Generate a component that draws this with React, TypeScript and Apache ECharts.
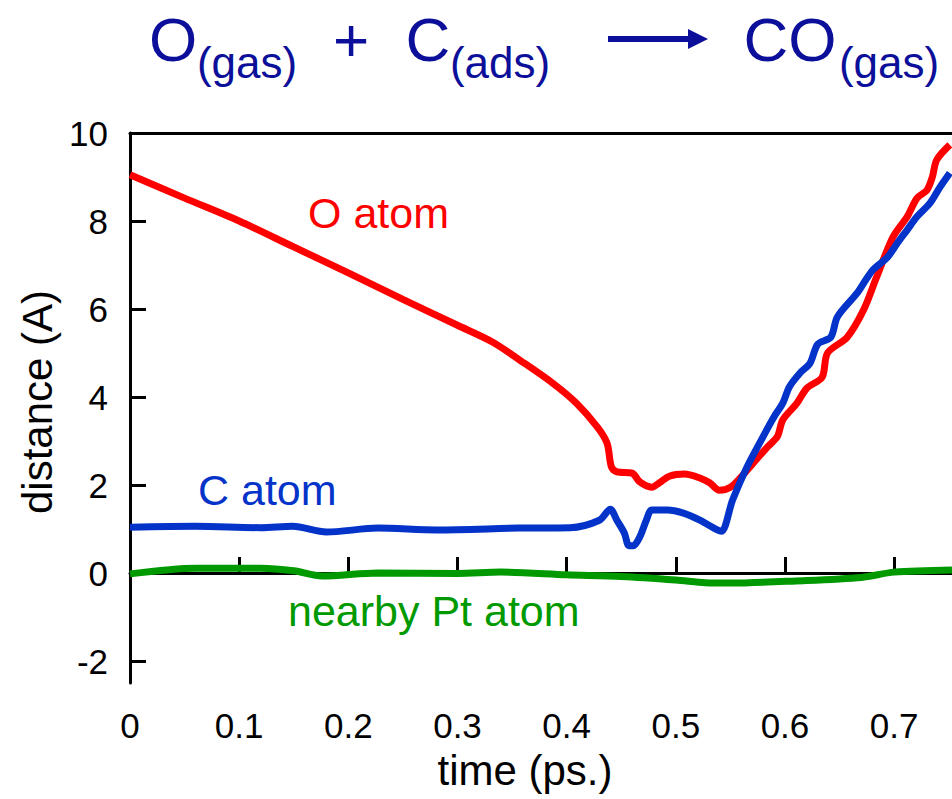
import React, { useEffect, useRef } from 'react';
import * as echarts from 'echarts';

const FONT = '"Liberation Sans", Arial, Helvetica, sans-serif';
const NAVY = '#0c0f99';
const RED = '#ff0000';
const BLUE = '#0333c9';
const GREEN = '#009a00';

// x tick labels / y tick labels
const xTicks = [0, 0.1, 0.2, 0.3, 0.4, 0.5, 0.6, 0.7];
const yTicks = [-2, 0, 2, 4, 6, 8, 10];

// O atom (red)
const oTime = [0, 0.05, 0.1, 0.15, 0.2, 0.25, 0.3, 0.332, 0.357, 0.387, 0.409, 0.428, 0.437, 0.441, 0.446, 0.46, 0.467, 0.478, 0.485, 0.494, 0.508, 0.522, 0.531, 0.54, 0.55, 0.559, 0.571, 0.583, 0.593, 0.598, 0.611, 0.62, 0.634, 0.639, 0.657, 0.672, 0.684, 0.699, 0.712, 0.721, 0.73, 0.735, 0.739, 0.751];
const oDist = [9.05, 8.52, 8.0, 7.41, 6.82, 6.22, 5.63, 5.25, 4.84, 4.32, 3.86, 3.32, 2.95, 2.41, 2.3, 2.27, 2.07, 1.95, 2.05, 2.2, 2.25, 2.16, 2.05, 1.88, 1.95, 2.16, 2.5, 2.84, 3.1, 3.48, 3.86, 4.2, 4.45, 5.0, 5.36, 5.98, 6.73, 7.64, 8.1, 8.52, 8.7, 9.0, 9.39, 9.73];

// C atom (blue)
const cTime = [0, 0.06, 0.12, 0.149, 0.18, 0.227, 0.281, 0.356, 0.403, 0.43, 0.44, 0.446, 0.453, 0.457, 0.461, 0.467, 0.473, 0.478, 0.492, 0.507, 0.522, 0.538, 0.542, 0.552, 0.565, 0.58, 0.59, 0.598, 0.604, 0.614, 0.623, 0.63, 0.642, 0.648, 0.666, 0.675, 0.681, 0.694, 0.703, 0.712, 0.721, 0.733, 0.742, 0.751];
const cDist = [1.04, 1.06, 1.03, 1.06, 0.93, 1.02, 0.98, 1.02, 1.03, 1.2, 1.45, 1.2, 0.9, 0.62, 0.62, 0.82, 1.2, 1.43, 1.43, 1.36, 1.2, 0.98, 0.95, 1.66, 2.4, 3.1, 3.55, 3.86, 4.23, 4.55, 4.77, 5.2, 5.36, 5.82, 6.36, 6.7, 6.9, 7.18, 7.5, 7.8, 8.1, 8.41, 8.77, 9.09];

// nearby Pt atom (green)
const gTime = [0, 0.06, 0.12, 0.15, 0.176, 0.227, 0.3, 0.34, 0.4, 0.45, 0.5, 0.527, 0.55, 0.61, 0.67, 0.7, 0.753];
const gDist = [-0.02, 0.11, 0.11, 0.05, -0.07, 0.0, -0.01, 0.02, -0.04, -0.08, -0.16, -0.22, -0.23, -0.18, -0.1, 0.02, 0.07];

const zip = (a: number[], b: number[]) => a.map((v, i) => [v, b[i]]);

const axisLineStyle = { color: '#000', width: 3 };

export default function App() {
  const ref = useRef<HTMLDivElement>(null);
  useEffect(() => {
    document.body.style.margin = '0';
    const chart = echarts.init(ref.current!, null, { renderer: 'svg' });
    const bigText = (text: string, x: number) => ({
      type: 'text', x, y: 39,
      style: { text, fontSize: 62, fontFamily: FONT, fill: NAVY, align: 'center', verticalAlign: 'middle' },
    });
    const subText = (text: string, x: number) => ({
      type: 'text', x, y: 62,
      style: { text, fontSize: 44, fontFamily: FONT, fill: NAVY, align: 'center', verticalAlign: 'middle' },
    });
    const note = (text: string, x: number, y: number, color: string) => ({
      type: 'text', x, y,
      style: { text, fontSize: 43, fontFamily: FONT, fill: color, align: 'left', verticalAlign: 'middle' },
    });
    chart.setOption({
      animation: false,
      backgroundColor: '#fff',
      grid: { left: 130, top: 133, right: 0, bottom: 116 },
      xAxis: [
        {
          type: 'value', min: 0, max: 0.753, position: 'bottom',
          axisLine: { show: true, lineStyle: axisLineStyle },
          axisTick: { show: true, inside: true, length: 16, lineStyle: axisLineStyle, customValues: xTicks.slice(1) },
          axisLabel: {
            customValues: xTicks, fontSize: 35, color: '#000', fontFamily: FONT, margin: 25,
            formatter: (v: number) => String(Math.round(v * 10) / 10),
          },
          splitLine: { show: false },
          name: 'time (ps.)', nameLocation: 'middle', nameGap: 66,
          nameTextStyle: { fontSize: 42, color: '#000', fontFamily: FONT, padding: [0, 32, 0, 0] },
        },
        {
          type: 'value', min: 0, max: 0.753, position: 'top',
          axisLine: { show: true, lineStyle: axisLineStyle },
          axisTick: { show: false }, axisLabel: { show: false }, splitLine: { show: false },
        },
      ],
      yAxis: {
        type: 'value', min: -2.5, max: 10,
        axisLine: { show: true, lineStyle: axisLineStyle },
        axisTick: { show: true, inside: true, length: 16, lineStyle: axisLineStyle, customValues: yTicks },
        axisLabel: { customValues: yTicks, fontSize: 35, color: '#000', fontFamily: FONT, margin: 22 },
        splitLine: { show: false },
        name: 'distance (A)', nameLocation: 'middle', nameGap: 70, nameRotate: 90,
        nameTextStyle: { fontSize: 42, color: '#000', fontFamily: FONT, padding: [0, 0, 0, 12] },
      },
      series: [
        { name: 'nearby Pt atom', type: 'line', data: zip(gTime, gDist), showSymbol: false, smooth: 0.3, lineStyle: { color: GREEN, width: 7 }, itemStyle: { color: GREEN } },
        { name: 'C atom', type: 'line', data: zip(cTime, cDist), showSymbol: false, smooth: 0.3, lineStyle: { color: BLUE, width: 7 }, itemStyle: { color: BLUE }, z: 3 },
        { name: 'O atom', type: 'line', data: zip(oTime, oDist), showSymbol: false, smooth: 0.3, lineStyle: { color: RED, width: 7 }, itemStyle: { color: RED }, z: 2 },
      ],
      graphic: [
        bigText('O', 173),
        subText('(gas)', 247),
        bigText('+', 351),
        bigText('C', 428),
        subText('(ads)', 500),
        { type: 'line', shape: { x1: 608, y1: 39, x2: 692, y2: 39 }, style: { stroke: NAVY, lineWidth: 6 } },
        { type: 'polygon', shape: { points: [[688, 29], [708, 39], [688, 49]] }, style: { fill: NAVY } },
        bigText('CO', 790),
        subText('(gas)', 889),
        note('O atom', 308, 213, RED),
        note('C atom', 198, 490, BLUE),
        note('nearby Pt atom', 288, 611, GREEN),
      ],
    });
    return () => chart.dispose();
  }, []);
  return <div ref={ref} style={{ width: 952, height: 799 }} />;
}
